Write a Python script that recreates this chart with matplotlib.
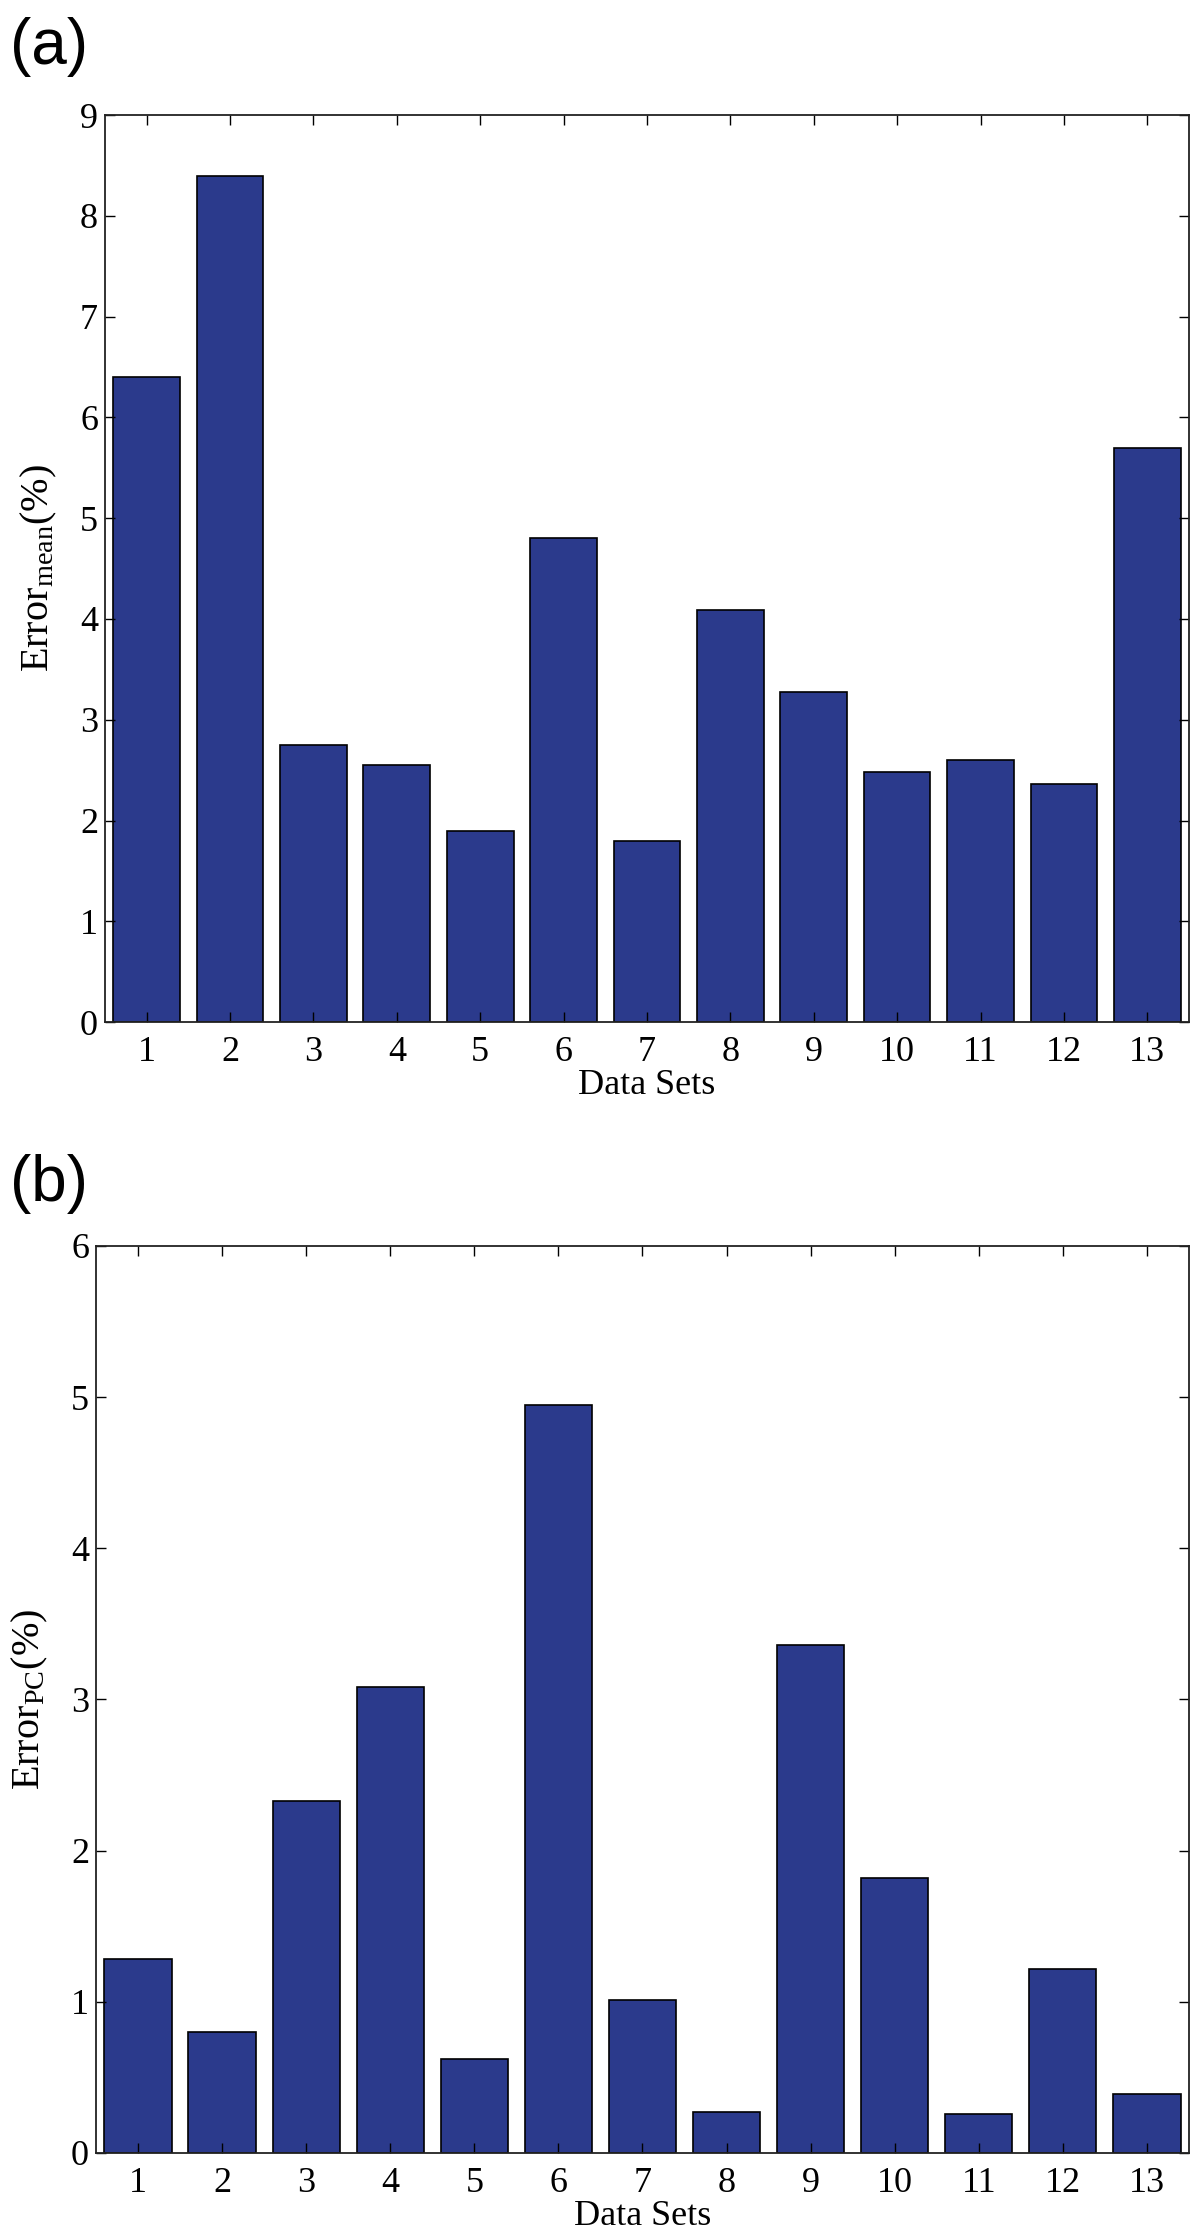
import matplotlib
matplotlib.use("Agg")
import matplotlib.pyplot as plt

# data sets 1..13
data_sets = list(range(1, 14))
error_mean = [6.40, 8.40, 2.75, 2.55, 1.90, 4.80, 1.80, 4.09, 3.28, 2.48, 2.60, 2.36, 5.70]
error_pc = [1.28, 0.80, 2.33, 3.08, 0.62, 4.95, 1.01, 0.27, 3.36, 1.82, 0.26, 1.22, 0.39]

plt.rcParams['font.family'] = ['Liberation Serif', 'DejaVu Serif']
plt.rcParams['mathtext.fontset'] = 'custom'
plt.rcParams['mathtext.rm'] = 'Liberation Serif'
plt.rcParams['mathtext.it'] = 'Liberation Serif:italic'

bar_color = '#2b3a8c'

fig = plt.figure(figsize=(12, 22.38), dpi=100)

ax_a = fig.add_axes([0.0875, 0.5433, 0.9033, 0.4053])
ax_b = fig.add_axes([0.080, 0.0380, 0.9108, 0.4053])


def style_axes(ax, values, ymax, ylabel):
    ax.bar(data_sets, values, width=0.8, color=bar_color, edgecolor='black', linewidth=1.2)
    ax.set_xlim(0.5, 13.5)
    ax.set_ylim(0, ymax)
    ax.set_xticks(data_sets)
    ax.set_yticks(range(0, ymax + 1))
    ax.tick_params(direction='in', top=True, right=True, length=7, width=1.0,
                   labelsize=26)
    ax.tick_params(axis='x', pad=10)
    ax.tick_params(axis='y', pad=5)
    for s in ax.spines.values():
        s.set_linewidth(1.3)
        s.set_color('#222222')
    ax.set_xlabel('Data Sets', fontsize=26, labelpad=0)
    ax.set_ylabel(ylabel, fontsize=29)
    ax.yaxis.set_label_coords(-0.042, 0.5)


style_axes(ax_a, error_mean, 9, r'Error$_{\mathrm{mean}}$(%)')
style_axes(ax_b, error_pc, 6, r'Error$_{\mathrm{PC}}$(%)')

fig.text(0.008, 0.979, '(a)', fontsize=46, family='Liberation Sans', va='center', ha='left')
fig.text(0.008, 0.471, '(b)', fontsize=46, family='Liberation Sans', va='center', ha='left')

plt.savefig("out.png", dpi=100)
